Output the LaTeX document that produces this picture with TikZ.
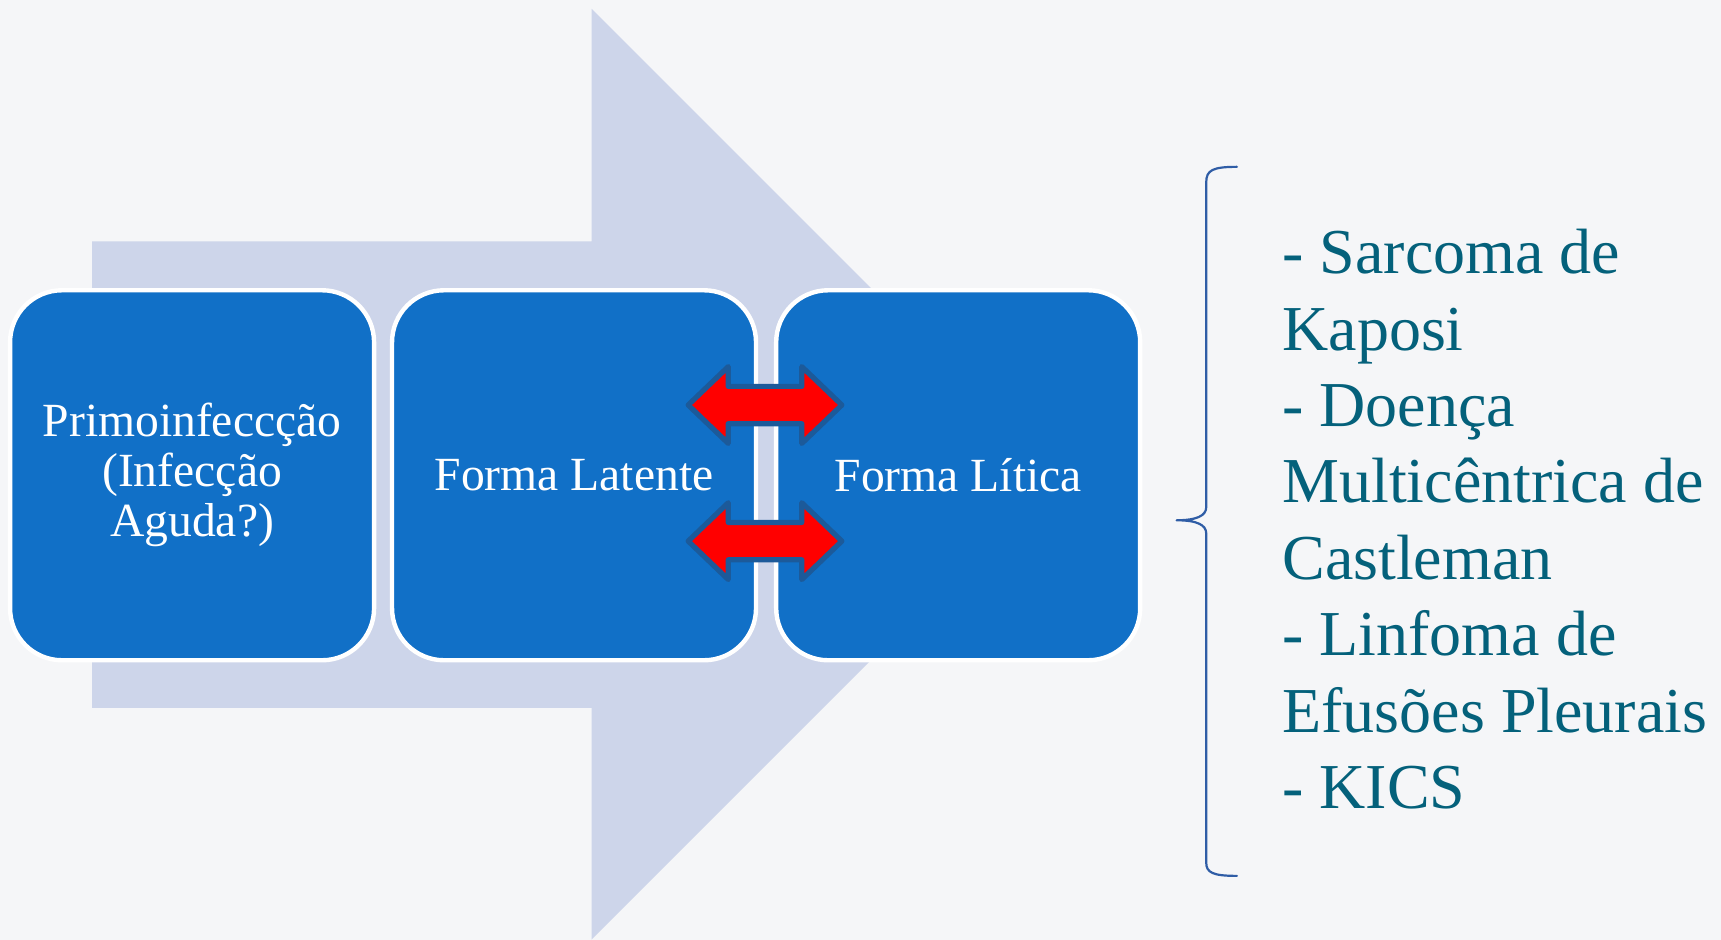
\documentclass[tikz,border=0pt]{standalone}
\usepackage{fontspec}
\setmainfont{Liberation Serif}
\definecolor{fundo}{HTML}{F5F6F8}
\definecolor{lilas}{HTML}{CDD5EA}
\definecolor{azulcaixa}{HTML}{1170C7}
\definecolor{azulborda}{HTML}{1C5A9A}
\definecolor{azulchave}{HTML}{2F5DA6}
\definecolor{verdeazul}{HTML}{04617B}
\begin{document}
\begin{tikzpicture}[line join=round,line cap=round,x=0.5488pt,y=-0.5488pt,
	caixa/.style={draw=white,line width=2.2pt,fill=azulcaixa,rounded corners=26pt,
		minimum width=182pt,minimum height=185pt,text=white,align=center,
		font=\fontsize{23.8}{25}\selectfont}]
	\useasboundingbox[fill=fundo] (0,0) rectangle (1568,856);
	% seta grande de fundo
	\fill[lilas] (84,220)--(539,220)--(539,8)--(963,432)--(539,856)--(539,645)--(84,645)--cycle;
	% caixas
	\node[caixa] (prim) at (175,433) {Primoinfeccção\\(Infecção\\Aguda?)};
	\node[caixa] (lat) at (523,433) {Forma Latente};
	\node[caixa] (lit) at (873,433) {Forma Lítica};
	% setas duplas vermelhas
	\foreach \yc in {369,493}
	\draw[fill=red,draw=azulborda,line width=2.6pt,shift={(697,\yc)}]
	(-70,0)--(-33.5,-35)--(-33.5,-17)--(33.5,-17)--(33.5,-35)--(70,0)
	--(33.5,35)--(33.5,17)--(-33.5,17)--(-33.5,35)--cycle;
	% chave
	\draw[azulchave,line width=1.1pt] (1127,152) .. controls (1105,152) and (1099,155) .. (1099,166)
	--(1099,462) .. controls (1099,470) and (1090,474) .. (1072,474)
	.. controls (1090,474) and (1099,478) .. (1099,486)
	--(1099,786) .. controls (1099,795) and (1105,798) .. (1127,798);
	\node[anchor=west,inner sep=0pt,align=left,text=verdeazul,
	font=\fontsize{32}{38.2}\selectfont] (lista) at (1168,473)
	{- Sarcoma de\\Kaposi\\- Doença\\Multicêntrica de\\Castleman\\- Linfoma de\\Efusões Pleurais\\- KICS};
\end{tikzpicture}
\end{document}
